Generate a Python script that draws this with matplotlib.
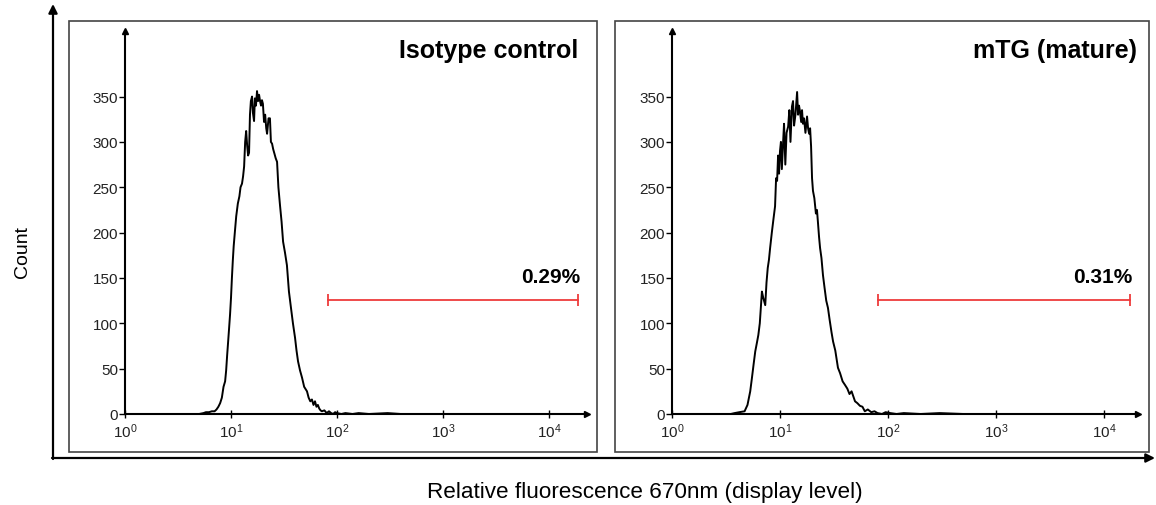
import matplotlib.pyplot as plt
from matplotlib.patches import Rectangle
from matplotlib.ticker import NullLocator

plt.rcParams["font.family"] = ["Liberation Sans", "DejaVu Sans"]
plt.rcParams["mathtext.fontset"] = "custom"
plt.rcParams["mathtext.rm"] = "Liberation Sans"
plt.rcParams["mathtext.it"] = "Liberation Sans:italic"
plt.rcParams["mathtext.bf"] = "Liberation Sans:bold"

# ---------------- data ----------------

# isotype control histogram: fluorescence level, count
iso_x = [5.0, 5.5, 5.8, 6.2, 6.6, 7.0, 7.3, 7.6, 7.9, 8.2, 8.5, 8.8, 9.0, 9.2,
         9.4, 9.6, 9.8, 10.0, 10.2, 10.4, 10.6, 10.9, 11.2, 11.6, 12.0, 12.3,
         12.7, 13.0, 13.3, 13.6, 13.9, 14.2, 14.5, 14.8, 15.1, 15.4, 15.8,
         16.1, 16.5, 16.8, 17.2, 17.6, 18.0, 18.4, 18.8, 19.2, 19.6, 20.0,
         20.5, 21.0, 21.5, 21.9, 22.6, 23.3, 23.8, 24.4, 25.0, 25.7, 26.4,
         27.2, 28.0, 29.0, 30.0, 31.0, 32.3, 33.7, 35.2, 36.8, 38.4, 40.2,
         41.5, 42.9, 44.8, 46.8, 49.0, 52.1, 54.0, 56.0, 58.0, 60.0, 62.0,
         64.0, 66.0, 68.0, 70.0, 72.0, 76.0, 80.0, 84.0, 88.0, 92.0, 96.0,
         100, 110, 120, 140, 160, 200, 300, 400, 1000, 3000]
iso_count = [0, 1, 2, 2, 3, 3, 5, 8, 12, 18, 30, 36, 48, 65,
             80, 95, 110, 128, 150, 169, 185, 202, 218, 232, 240, 250,
             254, 262, 273, 300, 312, 296, 285, 288, 330, 345, 350,
             332, 323, 348, 340, 356, 345, 352, 345, 340, 346, 342,
             322, 330, 315, 309, 326, 326, 300, 298, 292, 287, 282,
             278, 250, 230, 212, 190, 178, 164, 135, 117, 100, 84,
             70, 58, 48, 40, 30, 25, 18, 14, 16, 10, 14,
             8, 10, 6, 4, 3, 4, 1, 3, 1, 0, 2,
             1, 0, 1, 0, 1, 0, 1, 0, 0, 0]

# mTG (mature) histogram: fluorescence level, count
mtg_x = [3.5, 3.8, 4.2, 4.7, 5.0, 5.3, 5.5, 5.7, 5.9, 6.1, 6.3, 6.5, 6.8,
         7.0, 7.3, 7.5, 7.7, 7.9, 8.1, 8.4, 8.7, 9.0, 9.2, 9.4, 9.6, 9.8,
         10.0, 10.2, 10.4, 10.7, 10.9, 11.2, 11.5, 11.9, 12.2, 12.5, 12.9,
         13.2, 13.5, 13.9, 14.4, 14.7, 15.0, 15.3, 15.7, 16.0, 16.3, 16.7,
         17.2, 17.8, 18.2, 18.6, 19.0, 19.4, 19.8, 20.2, 20.8, 21.5, 22.0,
         22.5, 23.0, 23.5, 24.2, 25.0, 25.8, 26.8, 27.8, 28.8, 30.0, 31.0,
         32.5, 34.4, 36.0, 38.0, 40.0, 42.0, 44.0, 46.0, 49.5, 52.0, 55.0,
         58.0, 61.0, 65.0, 70.0, 75.0, 80.0, 88.0, 95.0, 105, 120, 140,
         200, 300, 500, 3000]
mtg_count = [0, 1, 2, 3, 10, 25, 40, 55, 69, 78, 87, 100, 135,
             128, 120, 145, 161, 170, 183, 200, 215, 229, 260, 257, 285, 265,
             290, 300, 270, 301, 320, 275, 310, 317, 335, 300, 339,
             345, 318, 330, 355, 330, 340, 334, 322, 335, 320, 326,
             310, 328, 315, 309, 315, 295, 260, 246, 238, 221, 225,
             210, 195, 183, 172, 153, 140, 125, 117, 104, 90, 80,
             70, 51, 45, 36, 32, 28, 22, 25, 14, 12, 9,
             8, 3, 5, 2, 3, 1, 0, 2, 1, 0, 1,
             0, 1, 0, 0]

panel_titles = ["Isotype control", "mTG (mature)"]
gate_labels = ["0.29%", "0.31%"]
gate_lo = [82, 80]
gate_hi = [18800, 17400]
gate_level = 126
y_ticks = [0, 50, 100, 150, 200, 250, 300, 350]
x_ticks = [1, 10, 100, 1000, 10000]

# ---------------- layout ----------------

W, H = 1156, 506
fig = plt.figure(figsize=(W / 100, H / 100), dpi=100)

bg = fig.add_axes([0, 0, 1, 1])
bg.set_xlim(0, W)
bg.set_ylim(H, 0)
bg.axis("off")

# outer "axes" arrows
arrow = dict(arrowstyle="-|>", color="black", lw=1.6, mutation_scale=13,
             shrinkA=0, shrinkB=0)
bg.annotate("", xy=(53, 5), xytext=(53, 460), arrowprops=arrow)
bg.annotate("", xy=(1155, 459), xytext=(52, 459), arrowprops=arrow)
bg.text(22, 252, "Count", rotation=90, ha="center", va="center", fontsize=14)
bg.text(645, 493, "Relative fluorescence 670nm (display level)",
        ha="center", va="center", fontsize=16.2)

# panel frames
for x0, x1 in [(69, 597), (615, 1149)]:
    bg.add_patch(Rectangle((x0, 22), x1 - x0, 431, fill=False,
                           edgecolor="#444444", lw=1.2))

panels = [
    (iso_x, iso_count, 125, 587, 106, 578, 580),
    (mtg_x, mtg_count, 672, 1138, 108, 1137, 1132),
]

for i, (xs, ys, px0, px1, decade, title_r, pct_r) in enumerate(panels):
    ax = fig.add_axes([px0 / W, 1 - 415 / H, (px1 - px0) / W, (415 - 32) / H])
    ax.set_xscale("log")
    ax.set_xlim(1, 10 ** ((px1 - px0) / decade))
    ax.set_ylim(0, 383 / 0.907)
    ax.patch.set_alpha(0)

    ax.plot(xs, ys, color="black", lw=1.4)

    # gate
    ax.plot([gate_lo[i], gate_hi[i]], [gate_level, gate_level],
            color="#ee3b3b", lw=1.3)
    ax.plot([gate_lo[i], gate_hi[i]], [gate_level, gate_level], ls="none",
            marker="|", ms=9, mew=1.3, color="#ee3b3b")

    for s in ["top", "right"]:
        ax.spines[s].set_visible(False)
    for s in ["left", "bottom"]:
        ax.spines[s].set_linewidth(1.5)
    ax.plot(1, 0, marker=">", ms=4, color="black",
            transform=ax.transAxes, clip_on=False)
    ax.plot(0, 1, marker="^", ms=4, color="black",
            transform=ax.transAxes, clip_on=False)

    ax.set_yticks(y_ticks)
    ax.set_xticks(x_ticks)
    ax.xaxis.set_minor_locator(NullLocator())
    ax.tick_params(axis="y", direction="out", length=4, width=1,
                   labelsize=11, pad=1, labelcolor="#222222")
    ax.tick_params(axis="x", direction="inout", length=6, width=1,
                   labelsize=11, pad=2, labelcolor="#222222")

    bg.text(title_r, 58, panel_titles[i], ha="right", va="baseline",
            fontsize=18, fontweight="bold")
    bg.text(pct_r, 283, gate_labels[i], ha="right", va="baseline",
            fontsize=15, fontweight="bold")

fig.savefig("out.png", dpi=100)
